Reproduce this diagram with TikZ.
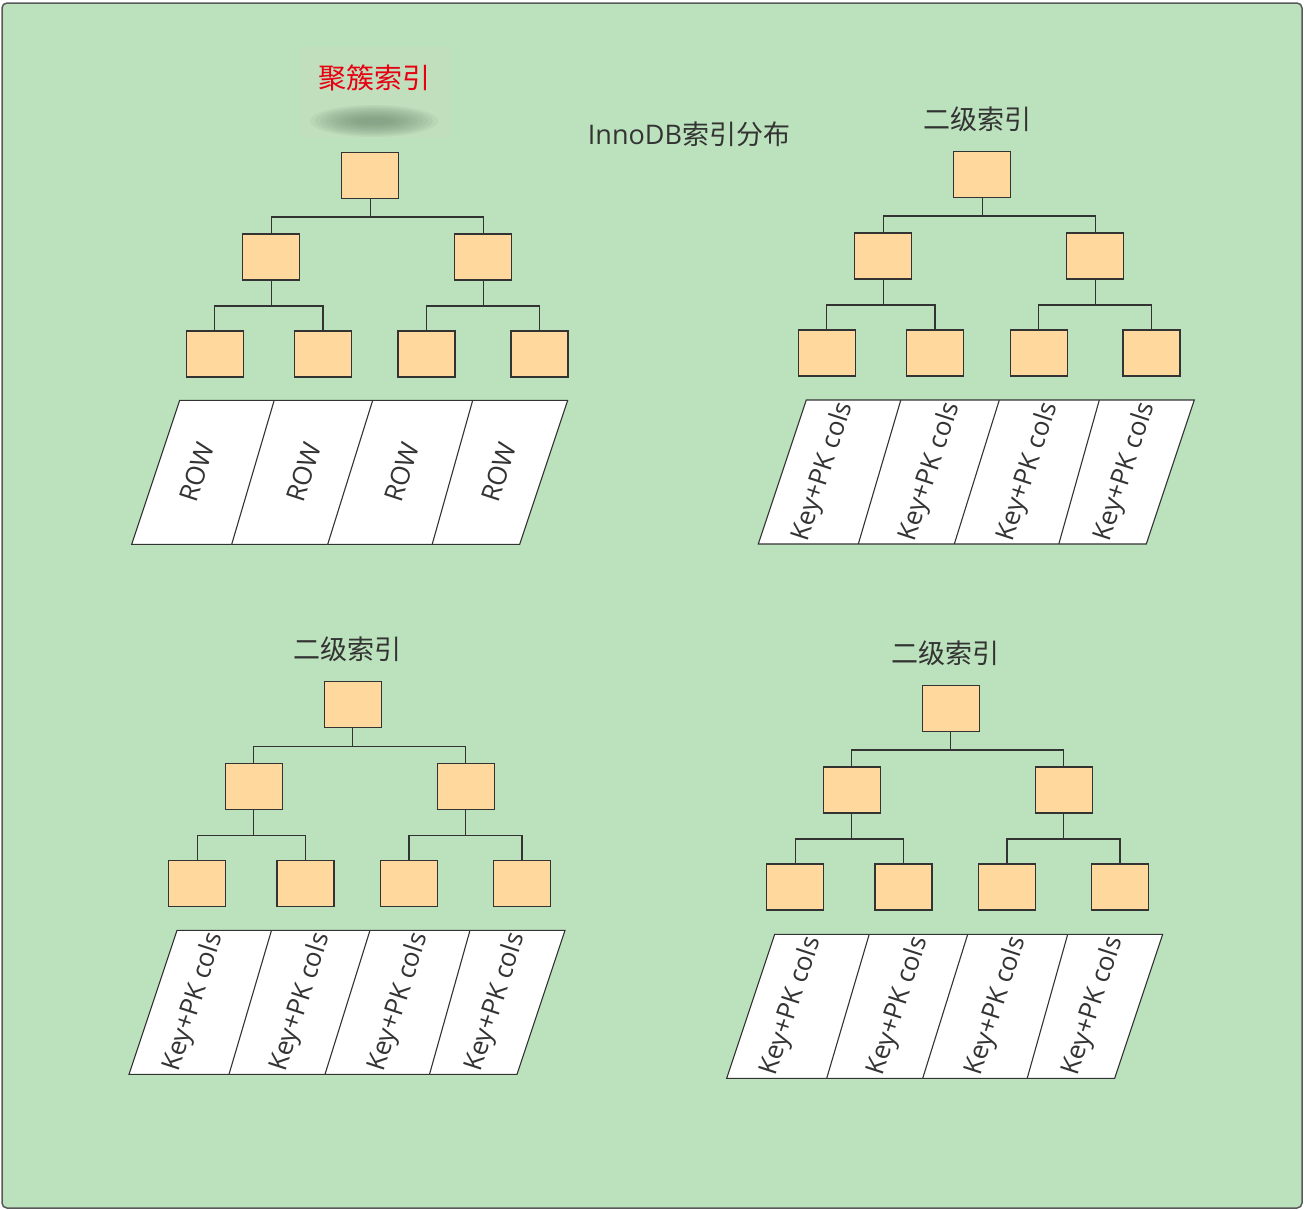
\documentclass[tikz,border=0pt]{standalone}
\usepackage{fontspec}
\setmainfont{Open Sans}
\newfontfamily\cjk{Noto Sans CJK SC}
\usetikzlibrary{calc}

\definecolor{bggreen}{RGB}{188,226,189}
\definecolor{hlgreen}{RGB}{193,222,189}
\definecolor{shadowgreen}{RGB}{105,135,108}
\definecolor{boxorange}{RGB}{255,216,157}
\definecolor{titlered}{RGB}{232,0,18}
\definecolor{inkgray}{RGB}{51,51,51}

\tikzset{
  page/.style={draw=black!65, line width=1.5pt, fill=bggreen, rounded corners=5pt},
  block/.style={rectangle, draw=inkgray, line width=1.3pt, fill=boxorange,
    minimum width=57pt, minimum height=46pt, inner sep=0pt, anchor=north},
  link/.style={draw=inkgray, line width=1.3pt},
  rowband/.style={draw=inkgray, line width=1.1pt, fill=white},
  cell/.style={rotate=72, inner sep=0pt, text=inkgray, font=\fontsize{26}{31}\selectfont},
  heading/.style={text=inkgray, font=\cjk\fontsize{27}{32}\selectfont},
}

\begin{document}
\begin{tikzpicture}[x=1pt, y=-1pt]
        \useasboundingbox (0,0) rectangle (1304,1210);
        \draw[page] (2,3) rectangle (1302,1208);

        % titles
        \fill[hlgreen] (300,47) rectangle (450,138);
        \foreach \r in {0,...,9}
          \fill[shadowgreen, opacity=0.09] (374,121) ellipse [x radius={64-5*\r}, y radius={16-1.4*\r}];
        \node[heading, text=titlered, font=\cjk\fontsize{28}{32}\selectfont] (clustered) at (374,78) {聚簇索引};
        \node[heading] (overview) at (689,134) {{\rmfamily InnoDB}索引分布};
        \node[heading] (secondA) at (977,119) {二级索引};
        \node[heading] (secondB) at (347,649) {二级索引};
        \node[heading] (secondC) at (945,653) {二级索引};

        % trees
        \foreach \tr/\cx/\ty/\px/\py/\cell in {
            a/370.2/151.7/131.7/544.3/ROW,
            b/982.3/150.7/758.3/544/Key+PK cols,
            c/352.7/681/129/1074.3/Key+PK cols,
            d/950.7/684.7/726.7/1078.3/Key+PK cols}{
          \node[block] (r\tr) at (\cx,\ty) {};
          \node[block] (m\tr1) at (\cx-99,\ty+81.6) {};
          \node[block] (m\tr2) at (\cx+113,\ty+81.6) {};
          \node[block] (l\tr1) at (\cx-155.5,\ty+178.6) {};
          \node[block] (l\tr2) at (\cx-47.3,\ty+178.6) {};
          \node[block] (l\tr3) at (\cx+56.4,\ty+178.6) {};
          \node[block] (l\tr4) at (\cx+169.2,\ty+178.6) {};

          \draw[link] (r\tr.south) -- ++(0,18) -| (m\tr1.north);
          \draw[link] (r\tr.south) -- ++(0,18) -| (m\tr2.north);
          \draw[link] (m\tr1.south) -- ++(0,25.5) -| (l\tr1.north);
          \draw[link] (m\tr1.south) -- ++(0,25.5) -| (l\tr2.north);
          \draw[link] (m\tr2.south) -- ++(0,25.5) -| (l\tr3.north);
          \draw[link] (m\tr2.south) -- ++(0,25.5) -| (l\tr4.north);

          \coordinate (p\tr) at (\px,\py);
          \draw[rowband] (p\tr) -- ++(388,0) -- ++(48,-144) -- ++(-388,0) -- cycle;
          \foreach \b/\u in {100/142.5, 196/241, 300.5/341}
            \draw[rowband] ($(p\tr)+(\b,0)$) -- ($(p\tr)+(\u,-144)$);
          \foreach \dx [count=\i] in {65,172,270,367}
            \node[cell] (t\tr\i) at ($(p\tr)+(\dx,-72)$) {\cell};
        }
\end{tikzpicture}
\end{document}
